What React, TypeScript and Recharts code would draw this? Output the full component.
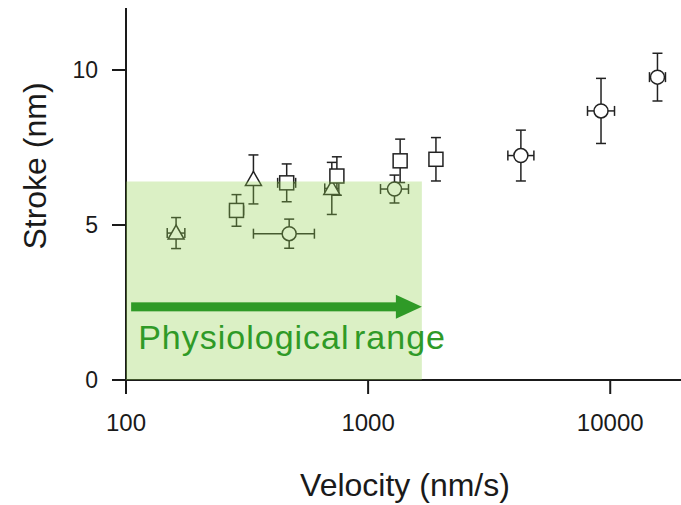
import React from "react";
import {
  ScatterChart,
  Scatter,
  XAxis,
  YAxis,
  ErrorBar,
  ReferenceArea,
  ReferenceLine,
  Label,
} from "recharts";

// triangles
const triVelocity = [161, 336, 708];
const triStroke = [4.74, 6.47, 6.18];
const triStrokeErr = [0.5, 0.79, 0.84];
const triVelocityErr = [[13, 14], [0, 0], [46, 49]];

// squares
const sqVelocity = [286, 461, 743, 1356, 1906];
const sqStroke = [5.47, 6.36, 6.58, 7.07, 7.12];
const sqStrokeErr = [0.51, 0.61, 0.62, 0.7, 0.7];
const sqVelocityErr = [[18, 20], [38, 41], [0, 0], [0, 0], [0, 0]];

// circles
const circVelocity = [472, 1285, 4275, 9160, 15670];
const circStroke = [4.72, 6.16, 7.24, 8.68, 9.77];
const circStrokeErr = [0.47, 0.45, 0.82, 1.05, 0.77];
const circVelocityErr = [[136, 128], [160, 183], [498, 563], [1104, 1255], [1147, 1238]];

const xTicks = [100, 1000, 10000];
const yTicks = [0, 5, 10];
const physioStart = 105;
const physioEnd = 1667;
const physioTop = 6.4;
const arrowLevel = 2.36;

const FONT = "'Liberation Sans', Arial, sans-serif";
const INK = "#1a1a1a";
const GREEN = "#2f9a27";

const build = (xs: number[], ys: number[], ey: number[], ex: number[][]) =>
  xs.map((x, i) => ({ x, y: ys[i], ey: ey[i], ex: ex[i] }));

const triData = build(triVelocity, triStroke, triStrokeErr, triVelocityErr);
const sqData = build(sqVelocity, sqStroke, sqStrokeErr, sqVelocityErr);
const circData = build(circVelocity, circStroke, circStrokeErr, circVelocityErr);

const Triangle = (p: any) => (
  <polygon
    points={`${p.cx},${p.cy - 8} ${p.cx - 8},${p.cy + 6} ${p.cx + 8},${p.cy + 6}`}
    fill="#fff"
    stroke="#222"
    strokeWidth={1.5}
  />
);

const Square = (p: any) => (
  <rect x={p.cx - 7} y={p.cy - 7} width={14} height={14} fill="#fff" stroke="#222" strokeWidth={1.5} />
);

const Circle = (p: any) => <circle cx={p.cx} cy={p.cy} r={7} fill="#fff" stroke="#222" strokeWidth={1.5} />;

const Arrow = (p: any) => {
  const { x1, y1, x2 } = p;
  const head = 26;
  return (
    <g>
      <rect x={x1} y={y1 - 4.5} width={x2 - x1 - head + 1} height={9} fill={GREEN} />
      <polygon points={`${x2 - head},${y1 - 12} ${x2},${y1} ${x2 - head},${y1 + 12}`} fill={GREEN} />
      <text
        x={x1 + 7}
        y={y1 + 42}
        fill={GREEN}
        fontSize={34}
        letterSpacing={1}
        wordSpacing={-6}
        fontFamily={FONT}
      >
        Physiological range
      </text>
    </g>
  );
};

const errProps = { stroke: "#222", strokeWidth: 1.5, width: 5 };

export default function App() {
  return (
    <div style={{ position: "absolute", left: 0, top: 0 }}>
      <ScatterChart width={681} height={505} margin={{ top: 8, right: 0, bottom: 0, left: 0 }}>
        <XAxis
          type="number"
          dataKey="x"
          scale="log"
          domain={[100, 19600]}
          ticks={xTicks}
          allowDataOverflow
          height={125}
          tickSize={14}
          tickMargin={20}
          axisLine={{ stroke: INK, strokeWidth: 2 }}
          tickLine={{ stroke: INK, strokeWidth: 2 }}
          tick={{ fill: INK, fontSize: 24, fontFamily: FONT }}
        >
          <Label
            content={() => (
              <text x={405} y={496} textAnchor="middle" fill={INK} fontSize={32} fontFamily={FONT}>
                Velocity (nm/s)
              </text>
            )}
          />
        </XAxis>
        <YAxis
          type="number"
          dataKey="y"
          domain={[0, 12]}
          ticks={yTicks}
          allowDataOverflow
          width={126}
          tickSize={14}
          tickMargin={14}
          axisLine={{ stroke: INK, strokeWidth: 2 }}
          tickLine={{ stroke: INK, strokeWidth: 2 }}
          tick={{ fill: INK, fontSize: 23, fontFamily: FONT }}
        >
          <Label
            content={() => (
              <text
                x={46}
                y={166}
                transform="rotate(-90 46 166)"
                textAnchor="middle"
                fill={INK}
                fontSize={32}
                fontFamily={FONT}
              >
                Stroke (nm)
              </text>
            )}
          />
        </YAxis>
        <Scatter data={triData} shape={Triangle} isAnimationActive={false}>
          <ErrorBar dataKey="ey" direction="y" {...errProps} />
          <ErrorBar dataKey="ex" direction="x" {...errProps} />
        </Scatter>
        <Scatter data={sqData} shape={Square} isAnimationActive={false}>
          <ErrorBar dataKey="ey" direction="y" {...errProps} />
          <ErrorBar dataKey="ex" direction="x" {...errProps} />
        </Scatter>
        <Scatter data={circData} shape={Circle} isAnimationActive={false}>
          <ErrorBar dataKey="ey" direction="y" {...errProps} />
          <ErrorBar dataKey="ex" direction="x" {...errProps} />
        </Scatter>
        <ReferenceArea
          x1={100}
          x2={physioEnd}
          y1={0}
          y2={physioTop}
          fill="#92d050"
          fillOpacity={0.33}
          stroke="none"
          zIndex={1000}
        />
        <ReferenceLine
          segment={[
            { x: physioStart, y: arrowLevel },
            { x: physioEnd, y: arrowLevel },
          ]}
          shape={Arrow}
          zIndex={1100}
        />
      </ScatterChart>
    </div>
  );
}
